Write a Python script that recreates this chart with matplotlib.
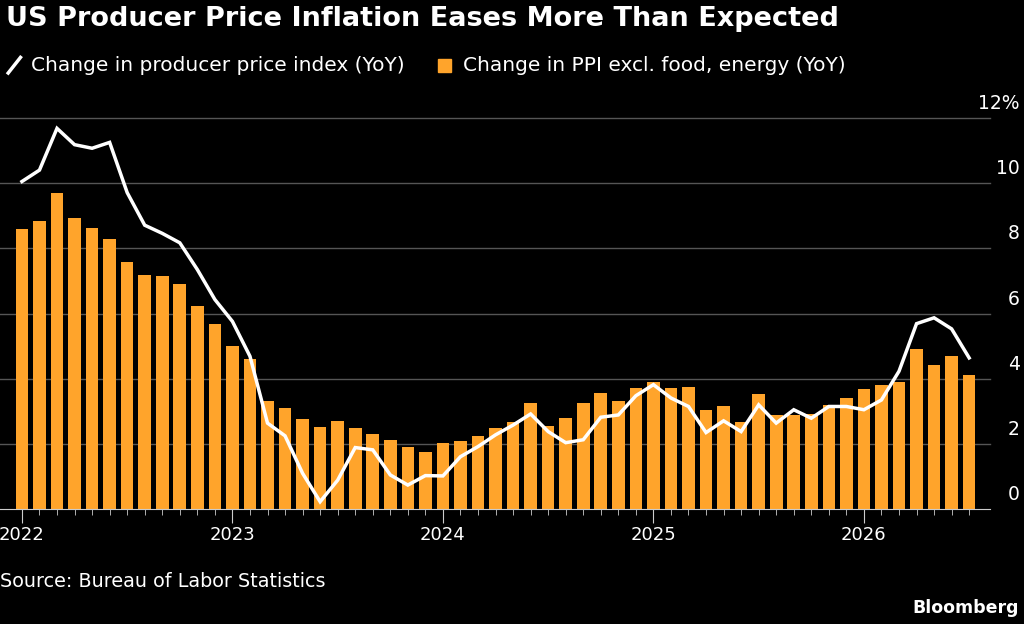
import matplotlib.pyplot as plt
import numpy as np

# monthly values starting Jan 2022
ppi = [10.05, 10.4, 11.68, 11.18, 11.07, 11.25, 9.71, 8.71, 8.46, 8.17, 7.35, 6.43,
       5.76, 4.69, 2.64, 2.25, 1.10, 0.23, 0.89, 1.89, 1.82, 1.05, 0.74, 1.03,
       1.02, 1.61, 1.92, 2.28, 2.58, 2.92, 2.38, 2.04, 2.13, 2.82, 2.89, 3.48,
       3.82, 3.41, 3.15, 2.35, 2.71, 2.38, 3.2, 2.64, 3.05, 2.79, 3.15, 3.15,
       3.05, 3.35, 4.23, 5.69, 5.87, 5.53, 4.64]
core = [8.58, 8.84, 9.69, 8.94, 8.61, 8.28, 7.58, 7.19, 7.15, 6.91, 6.23, 5.69,
        4.99, 4.61, 3.32, 3.09, 2.76, 2.51, 2.70, 2.48, 2.30, 2.12, 1.91, 1.76,
        2.02, 2.10, 2.25, 2.50, 2.67, 3.25, 2.55, 2.80, 3.25, 3.56, 3.33, 3.72,
        3.90, 3.71, 3.76, 3.04, 3.18, 2.66, 3.53, 2.88, 2.90, 2.92, 3.19, 3.41,
        3.68, 3.81, 3.91, 4.90, 4.41, 4.70, 4.13]
years = ['2022', '2023', '2024', '2025', '2026']
yticks = [0, 2, 4, 6, 8, 10, 12]

orange = '#FFA42B'
x = np.arange(len(ppi))

fig = plt.figure(figsize=(10.24, 6.24), dpi=100, facecolor='black')
ax = fig.add_axes([0.0, 0.184, 0.967, 0.627], facecolor='black')

ax.bar(x, core, width=0.72, color=orange, zorder=2)
ax.plot(x, ppi, color='white', lw=2.5, zorder=3, solid_joinstyle='miter')

ax.set_xlim(-1.25, 55.2)
ax.set_ylim(0, 12)
for v in yticks:
    if v > 0:
        ax.axhline(v, color='#555555', lw=1, zorder=1, clip_on=False)
    lab = str(v) + ('%' if v == 12 else '')
    ax.text(1.03, v + 0.15, lab, transform=ax.get_yaxis_transform(), ha='right',
            va='bottom', color='white', fontsize=13.5)
ax.set_yticks([])

for s in ['top', 'left', 'right']:
    ax.spines[s].set_visible(False)
ax.spines['bottom'].set_color('#cccccc')
ax.set_xticks(np.arange(0, 55, 12))
ax.set_xticklabels(years, color='white', fontsize=13)
ax.set_xticks(x, minor=True)
ax.tick_params(axis='x', which='major', length=10, color='#cccccc', pad=2)
ax.tick_params(axis='x', which='minor', length=4, color='#cccccc')

fig.text(0.006, 0.97, 'US Producer Price Inflation Eases More Than Expected',
         color='white', fontsize=19.5, fontweight='bold', va='center')
# legend
fig.lines.append(plt.Line2D([0.008, 0.02], [0.883, 0.908], color='white', lw=2.5,
                            transform=fig.transFigure))
fig.text(0.03, 0.895, 'Change in producer price index (YoY)', color='white',
         fontsize=14.5, va='center')
fig.patches.append(plt.Rectangle((0.428, 0.884), 0.012, 0.022, color=orange,
                                 transform=fig.transFigure))
fig.text(0.452, 0.895, 'Change in PPI excl. food, energy (YoY)', color='white',
         fontsize=14.5, va='center')
fig.text(0.0, 0.068, 'Source: Bureau of Labor Statistics', color='white',
         fontsize=13.8, va='center')
fig.text(0.995, 0.026, 'Bloomberg', color='white', fontsize=12.5,
         fontweight='bold', ha='right', va='center')

fig.savefig('out.png', facecolor='black')
